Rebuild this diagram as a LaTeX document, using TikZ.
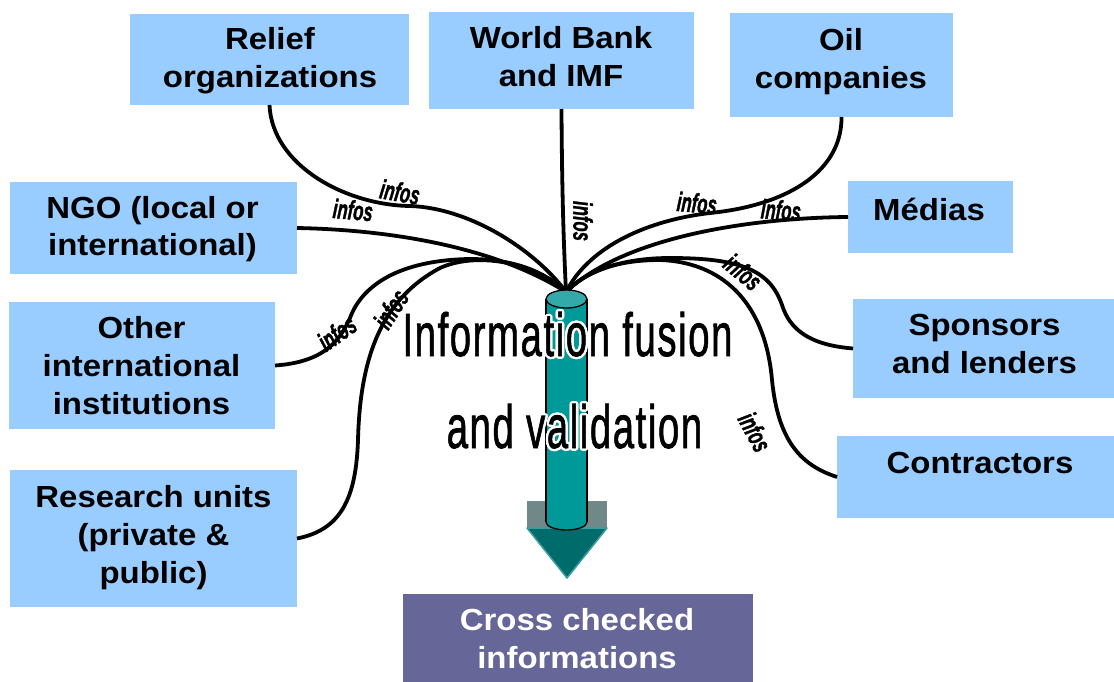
\documentclass[tikz,border=0pt]{standalone}
\usepackage{fontspec}
\setmainfont{Liberation Sans}
\newfontfamily\boxfont{Liberation Sans}[FakeStretch=1.08]
\newfontfamily\infofont{Liberation Sans}[BoldItalicFeatures={FakeBold=1.6}]
\newfontfamily\bigfont{Liberation Sans}[FakeBold=1.3, LetterSpace=4]
\usepackage{graphicx}
\definecolor{boxblue}{HTML}{99CCFF}
\definecolor{crosspurple}{HTML}{666699}
\definecolor{cylbody}{HTML}{009999}
\definecolor{cyltop}{HTML}{33AAAA}
\definecolor{arrowgray}{HTML}{708888}
\definecolor{arrowdark}{HTML}{006B6B}
\definecolor{arrowlight}{HTML}{3A9E9E}
\begin{document}
\begin{tikzpicture}[x=1pt,y=-1pt,
  box/.style={fill=boxblue, draw=none, inner sep=0pt, outer sep=0pt},
  boxtext/.style={inner sep=0pt, anchor=base, font=\boxfont\bfseries\fontsize{30.5}{38}\selectfont},
  link/.style={line width=3.8pt},
  infolabel/.style={inner sep=0pt, font=\infofont\bfseries\itshape\fontsize{27}{27}\selectfont},
  bigtext/.style={inner sep=0pt, anchor=base, font=\bigfont\fontsize{61}{61}\selectfont}]
\useasboundingbox (0,0) rectangle (1114,682);

% source boxes
\node[box, minimum width=279pt, minimum height=91pt]  (relief)      at (269.5,59.5) {};
\node[box, minimum width=265pt, minimum height=97pt]  (wb)          at (561.5,60.5) {};
\node[box, minimum width=223pt, minimum height=104pt] (oil)         at (841.5,65) {};
\node[box, minimum width=165pt, minimum height=72pt]  (medias)      at (930.5,217) {};
\node[box, minimum width=287pt, minimum height=92pt]  (ngo)         at (153.5,228) {};
\node[box, minimum width=266pt, minimum height=127pt] (other)       at (142,365.5) {};
\node[box, minimum width=261pt, minimum height=99pt]  (sponsors)    at (983.5,348.5) {};
\node[box, minimum width=277pt, minimum height=82pt]  (contractors) at (975.5,477) {};
\node[box, minimum width=287pt, minimum height=137pt] (research)    at (153.5,538.5) {};
\node[fill=crosspurple, inner sep=0pt, minimum width=350pt, minimum height=88pt] (cross) at (578,638) {};

\coordinate (hub) at (566,292);

% connectors
\draw[link] (relief.south) .. controls (272,165) and (345,205) .. (410,206)
                           .. controls (470,208) and (535,250) .. (hub);
\draw[link] (ngo.east) .. controls (400,230) and (500,250) .. (hub);
\draw[link] (other.east) .. controls (325,362) and (340,340) .. (350,318)
                         .. controls (362,285) and (400,260) .. (470,259)
                         .. controls (515,259) and (545,272) .. (hub);
\draw[link] (research.east) .. controls (340,530) and (356,500) .. (358,440)
                            .. controls (360,360) and (380,300) .. (440,268)
                            .. controls (480,250) and (540,265) .. (hub);
\draw[link] (wb.south) .. controls (562,200) and (564,250) .. (hub);
\draw[link] (oil.south) .. controls (842,170) and (790,205) .. (710,213)
                        .. controls (650,220) and (590,245) .. (hub);
\draw[link] (medias.west) .. controls (740,218) and (620,240) .. (hub);
\draw[link] (sponsors.west) .. controls (810,345) and (790,330) .. (782,305)
                            .. controls (770,270) and (740,258) .. (670,258)
                            .. controls (620,258) and (585,272) .. (hub);
\draw[link] (contractors.west) .. controls (800,465) and (778,440) .. (772,380)
                               .. controls (765,300) and (720,262) .. (660,260)
                               .. controls (615,260) and (585,272) .. (hub);

% block arrow
\fill[arrowgray] (527,501) rectangle (607,528);
\filldraw[fill=arrowdark, draw=arrowlight, line width=1.5pt, line join=round]
  (527,528) -- (607,528) -- (567,578) -- cycle;

% cylinder
\fill[cylbody] (546,299) rectangle (587,522);
\fill[cylbody] (566.5,522) ellipse [x radius=20.5, y radius=8];
\begin{scope}
  \clip (540,522) rectangle (595,536);
  \draw[line width=1.3pt] (566.5,522) ellipse [x radius=20.5, y radius=8];
\end{scope}
\draw[line width=1.3pt] (546,299) -- (546,522) (587,299) -- (587,522);
\filldraw[fill=cyltop, draw=black, line width=1.3pt] (566.5,299) ellipse [x radius=20.5, y radius=9];

% box texts
\node[boxtext] (relief-t) at (270,50) {\parbox[t]{300pt}{\centering Relief\\organizations}};
\node[boxtext] (wb-t) at (561,49) {\parbox[t]{300pt}{\centering World Bank\\and IMF}};
\node[boxtext] (oil-t) at (841,51) {\parbox[t]{300pt}{\centering Oil\\companies}};
\node[boxtext] (medias-t) at (929,220) {\parbox[t]{300pt}{\centering Médias}};
\node[boxtext] (ngo-t) at (152.5,218) {\parbox[t]{320pt}{\centering NGO (local or\\international)}};
\node[boxtext] (other-t) at (141.5,338) {\parbox[t]{320pt}{\centering Other\\international\\institutions}};
\node[boxtext] (sponsors-t) at (984.5,335) {\parbox[t]{300pt}{\centering Sponsors\\and lenders}};
\node[boxtext] (contractors-t) at (980,473) {\parbox[t]{300pt}{\centering Contractors}};
\node[boxtext] (research-t) at (153.5,507) {\parbox[t]{320pt}{\centering Research units\\(private \&\\public)}};
\node[boxtext, text=white] (cross-t) at (577,630) {\parbox[t]{340pt}{\centering Cross checked\\informations}};

% central title: white halo, then black text
\foreach \a in {0,30,...,330}{
  \node[bigtext, text=white, shift={(\a:2.4)}] (halo1-\a) at (567.5,356) {\scalebox{0.63}[1]{Information fusion}};
  \node[bigtext, text=white, shift={(\a:2.4)}] (halo2-\a) at (574.5,448) {\scalebox{0.63}[1]{and validation}};
}
\node[bigtext] (fusion1) at (567.5,356) {\scalebox{0.63}[1]{Information fusion}};
\node[bigtext] (fusion2) at (574.5,448) {\scalebox{0.63}[1]{and validation}};

% infos labels
\node[infolabel, rotate=-10] (info1) at (400,192) {\scalebox{0.62}[1]{infos}};
\node[infolabel, rotate=-5]  (info2) at (353,210) {\scalebox{0.62}[1]{infos}};
\node[infolabel, rotate=35]  (info3) at (337,333) {\scalebox{0.62}[1]{infos}};
\node[infolabel, rotate=57]  (info4) at (391,309) {\scalebox{0.62}[1]{infos}};
\node[infolabel, rotate=-90] (info5) at (583,221) {\scalebox{0.62}[1]{infos}};
\node[infolabel, rotate=-5]  (info6) at (697,203) {\scalebox{0.62}[1]{infos}};
\node[infolabel, rotate=-4]  (info7) at (781,210) {\scalebox{0.62}[1]{infos}};
\node[infolabel, rotate=-40] (info8) at (743,272) {\scalebox{0.62}[1]{infos}};
\node[infolabel, rotate=-62] (info9) at (755,432) {\scalebox{0.62}[1]{infos}};
\end{tikzpicture}
\end{document}
